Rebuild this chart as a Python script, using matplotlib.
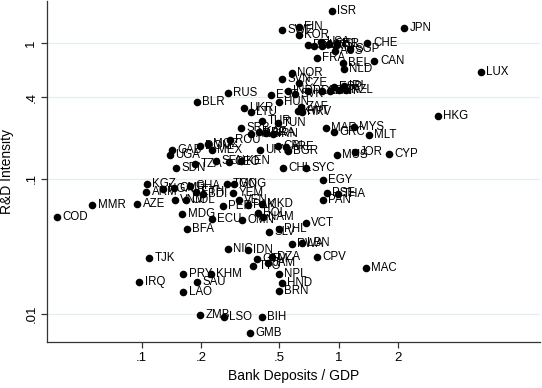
import matplotlib
matplotlib.use("Agg")
import matplotlib.pyplot as plt

plt.rcParams['font.family'] = ['Liberation Sans', 'DejaVu Sans']

# country codes, bank deposits / GDP, R&D intensity
codes = ["ISR", "JPN", "SWE", "FIN", "KOR", "DEU", "DNK", "USA", "AUT", "ISL",
         "AUS", "SGP", "CHE", "CAN", "FRA", "BEL", "NLD", "GBR", "LUX", "NOR",
         "SVN", "CZE", "EST", "IND", "SVK", "POL", "ESP", "IRL", "PRT", "ITA",
         "NZL", "CHN", "HUN", "ZAF", "HRV", "KWT", "RUS", "BLR", "UKR", "LTU",
         "HKG", "TUR", "TUN", "SRB", "ARG", "KAZ", "BRA", "IRN", "MAR", "MYS",
         "GRC", "MLT", "ROU", "DOM", "MOZ", "MEX", "GAB", "UGA", "URY", "CRI",
         "ARE", "BGR", "TZA", "SDN", "SEN", "GEO", "KEN", "MUS", "JOR", "CYP",
         "CHL", "SYC", "EGY", "PSE", "THA", "PAN", "KGZ", "ARM", "NGA", "CMR",
         "GHA", "ETH", "BDI", "VNM", "COL", "MMR", "AZE", "COD", "MDG", "ECU",
         "BFA", "PER", "TGO", "MNG", "YEM", "VEN", "PAK", "MKD", "BOL", "OMN",
         "NAM", "SLV", "PHL", "VCT", "RWA", "LBN", "CPV", "NIC", "IDN", "GTM",
         "DZA", "JAM", "TTO", "NPL", "HND", "BRN", "MAC", "TJK", "IRQ", "PRY",
         "KHM", "SAU", "LAO", "ZMB", "LSO", "BIH", "GMB"]

deposits = [0.921, 2.16, 0.514, 0.627, 0.627, 0.696, 0.747, 0.811, 0.820, 0.977,
            0.954, 1.137, 1.40, 1.52, 0.773, 1.048, 1.060, 0.889, 5.26, 0.577,
            0.514, 0.627, 0.452, 0.551, 0.598, 0.696, 0.943, 1.060, 0.900, 1.0,
            1.085, 0.820, 0.496, 0.641, 0.649, 0.619, 0.273, 0.190, 0.330, 0.357,
            3.18, 0.407, 0.490, 0.318, 0.357, 0.393, 0.426, 0.462, 0.859, 1.19,
            0.943, 1.42, 0.280, 0.197, 0.216, 0.227, 0.142, 0.139, 0.397, 0.490,
            0.538, 0.551, 0.186, 0.149, 0.238, 0.277, 0.318, 0.977, 1.206, 1.795,
            0.520, 0.680, 0.830, 0.869, 0.988, 0.830, 0.106, 0.105, 0.128, 0.145,
            0.175, 0.188, 0.204, 0.147, 0.167, 0.056, 0.095, 0.037, 0.160, 0.227,
            0.169, 0.258, 0.270, 0.293, 0.290, 0.311, 0.345, 0.407, 0.388, 0.322,
            0.411, 0.441, 0.496, 0.680, 0.577, 0.649, 0.773, 0.273, 0.345, 0.384,
            0.457, 0.436, 0.366, 0.496, 0.514, 0.496, 1.371, 0.109, 0.097, 0.162,
            0.224, 0.190, 0.162, 0.197, 0.261, 0.407, 0.353]

rd = [1.72, 1.29, 1.25, 1.31, 1.15, 0.967, 0.950, 1.03, 0.950, 0.983,
      0.873, 0.903, 1.0, 0.738, 0.776, 0.713, 0.644, 0.983, 0.612, 0.602,
      0.543, 0.508, 0.415, 0.444, 0.422, 0.444, 0.475, 0.483, 0.444, 0.451,
      0.451, 0.444, 0.368, 0.338, 0.311, 0.316, 0.429, 0.368, 0.333, 0.311,
      0.290, 0.267, 0.258, 0.237, 0.214, 0.222, 0.218, 0.214, 0.237, 0.241,
      0.222, 0.211, 0.194, 0.175, 0.181, 0.163, 0.163, 0.150, 0.163, 0.175,
      0.172, 0.161, 0.129, 0.120, 0.136, 0.133, 0.136, 0.150, 0.158, 0.153,
      0.120, 0.120, 0.0984, 0.0789, 0.0776, 0.0701, 0.0919, 0.0802, 0.0844, 0.0859,
      0.0889, 0.0802, 0.0776, 0.0701, 0.0701, 0.0644, 0.0655, 0.0517, 0.0544, 0.0500,
      0.0422, 0.0633, 0.0919, 0.0919, 0.0789, 0.0701, 0.0644, 0.0655, 0.0553, 0.0491,
      0.0517, 0.0401, 0.0422, 0.0467, 0.0327, 0.0333, 0.0262, 0.0301, 0.0296, 0.0254,
      0.0262, 0.0237, 0.0225, 0.0197, 0.0169, 0.0148, 0.0218, 0.0258, 0.0172, 0.0197,
      0.0197, 0.0172, 0.0145, 0.00984, 0.00951, 0.00951, 0.00724]

xticks = [0.1, 0.2, 0.5, 1, 2]
xticklabels = [".1", ".2", ".5", "1", "2"]
yticks = [0.01, 0.1, 0.4, 1]
yticklabels = [".01", ".1", ".4", "1"]

fig = plt.figure(figsize=(5.42, 3.88), dpi=100)
ax = fig.add_axes([0.0867, 0.1186, 0.909, 0.878])

ax.scatter(deposits, rd, s=30, color="black", zorder=3, linewidths=0)
for c, xv, yv in zip(codes, deposits, rd):
    ax.annotate(c, (xv, yv), xytext=(4, 0), textcoords="offset points",
                ha="left", va="center", fontsize=8.3, color="black", zorder=4)

ax.set_xscale("log")
ax.set_yscale("log")
ax.set_xlim(0.033, 10.5)
ax.set_ylim(0.00622, 2.04)
ax.set_xticks(xticks)
ax.set_xticklabels(xticklabels)
ax.set_yticks(yticks)
ax.set_yticklabels(yticklabels, rotation=90, va="center")
ax.minorticks_off()

ax.grid(axis="y", color="#e4eef0", linewidth=0.9, zorder=0)
ax.grid(axis="x", visible=False)
for s in ["top", "right"]:
    ax.spines[s].set_visible(False)
for s in ["left", "bottom"]:
    ax.spines[s].set_color("#333333")
    ax.spines[s].set_linewidth(0.9)
ax.tick_params(axis="both", length=4, width=0.9, color="#333333",
               labelsize=9.5, pad=3)

ax.set_xlabel("Bank Deposits / GDP", fontsize=10, labelpad=4)
ax.set_ylabel("R&D Intensity", fontsize=10, labelpad=8)

fig.savefig("out.png", dpi=100)
